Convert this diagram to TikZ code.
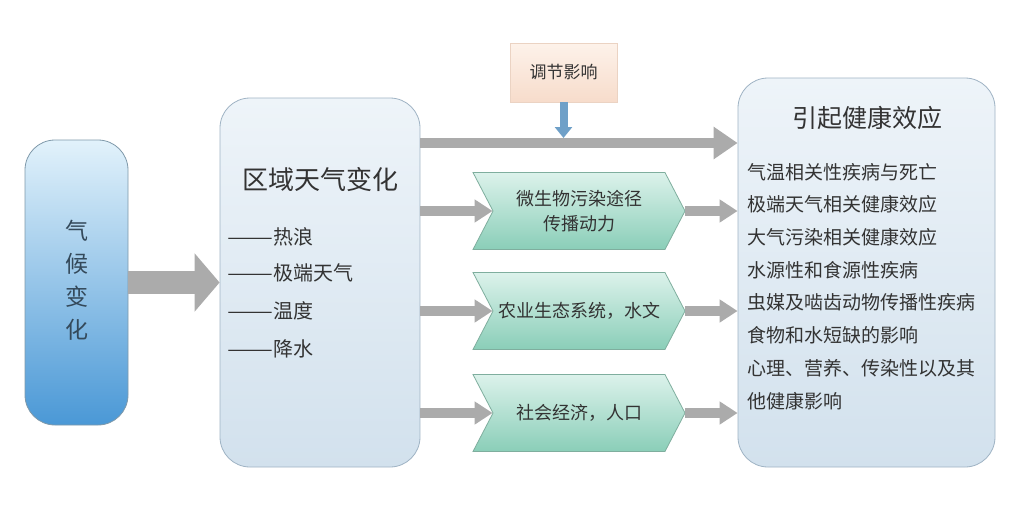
\documentclass[tikz,border=0pt]{standalone}
\usepackage{fontspec}
\setmainfont{Noto Sans CJK SC}
\usetikzlibrary{arrows.meta,shapes.symbols}
\definecolor{txt}{HTML}{333333}
\definecolor{climtop}{HTML}{E2F2FB}
\definecolor{climmid}{HTML}{8EC6EA}
\definecolor{climbot}{HTML}{4A98D6}
\definecolor{climline}{HTML}{7F99AA}
\definecolor{climtxt}{HTML}{34495A}
\definecolor{boxtop}{HTML}{EEF4F9}
\definecolor{boxbot}{HTML}{D2E1ED}
\definecolor{boxline}{HTML}{9FB3C4}
\definecolor{modtop}{HTML}{FDF2EA}
\definecolor{modbot}{HTML}{F7DCCB}
\definecolor{modline}{HTML}{EBD3C3}
\definecolor{chevtop}{HTML}{DCF2EB}
\definecolor{chevbot}{HTML}{8ACEB8}
\definecolor{chevline}{HTML}{7FAE9E}
\definecolor{arrowgray}{HTML}{ABABAB}
\definecolor{bluearrow}{HTML}{6FA0C8}
\newcommand{\longdash}{\scalebox{1.37}[1]{——}}
\tikzset{
  climbox/.style={draw=climline, line width=0.8pt, rounded corners=30pt,
    top color=climtop, middle color=climmid, bottom color=climbot,
    minimum width=103pt, minimum height=285pt, inner sep=0pt},
  bigbox/.style={draw=boxline, line width=0.8pt, rounded corners=30pt,
    top color=boxtop, bottom color=boxbot, inner sep=0pt},
  modbox/.style={draw=modline, line width=0.6pt, top color=modtop, bottom color=modbot,
    minimum width=107pt, minimum height=59pt, inner sep=0pt, text=txt,
    font=\fontsize{17}{20}\selectfont},
  chev/.style={shape=signal, signal to=east, signal from=west, signal pointer angle=125,
    draw=chevline, line width=0.8pt, top color=chevtop, bottom color=chevbot,
    minimum width=212pt, minimum height=77pt, inner sep=0pt, text=txt, align=center,
    font=\fontsize{18}{25}\selectfont},
  garrow/.style={draw=arrowgray, line width=10pt, -{Triangle[length=18pt,width=22pt]}},
  itemtxt/.style={anchor=west, inner sep=0pt, text=txt},
}
\begin{document}
\begin{tikzpicture}[x=1pt,y=-1pt]
\useasboundingbox (0,0) rectangle (1026,517);
\fill[white] (0,0) rectangle (1026,517);

% boxes
\node[climbox] (clim) at (76.5,282.5) {};
\node[bigbox, minimum width=200pt, minimum height=369pt] (reg) at (320,282.5) {};
\node[bigbox, minimum width=257pt, minimum height=389pt] (health) at (866.5,272.5) {};
\node[modbox] (mod) at (563.5,72.5) {调节影响};

\node[chev] (c1) at (579,211) {微生物污染途径\\传播动力};
\node[chev] (c2) at (579,311) {农业生态系统，水文};
\node[chev] (c3) at (579,413) {社会经济，人口};

% climate text
\node[text=climtxt, align=center, inner sep=0pt, font=\fontsize{23}{33}\selectfont] (climtxt) at (77,280) {气\\候\\变\\化};

% regional text
\node[text=txt, inner sep=0pt, font=\fontsize{26}{30}\selectfont] (regtitle) at (320,180) {区域天气变化};
\node[itemtxt, font=\fontsize{20}{24}\selectfont] (r1) at (227,237) {\longdash 热浪};
\node[itemtxt, font=\fontsize{20}{24}\selectfont] (r2) at (227,273) {\longdash 极端天气};
\node[itemtxt, font=\fontsize{20}{24}\selectfont] (r3) at (227,311) {\longdash 温度};
\node[itemtxt, font=\fontsize{20}{24}\selectfont] (r4) at (227,349) {\longdash 降水};

% health text
\node[text=txt, inner sep=0pt, font=\fontsize{25}{30}\selectfont] (htitle) at (867,118) {引起健康效应};
\foreach \t [count=\i] in {气温相关性疾病与死亡,极端天气相关健康效应,大气污染相关健康效应,水源性和食源性疾病,虫媒及啮齿动物传播性疾病,食物和水短缺的影响,心理、营养、传染性以及其,他健康影响}{
  \node[itemtxt, font=\fontsize{19}{22}\selectfont] (h\i) at (747,{172+32.7*(\i-1)}) {\t};
}

% arrows
\draw[draw=arrowgray, line width=23pt, -{Triangle[length=25pt,width=57pt]}] (clim.east) -- (reg.west);
\coordinate (la) at (reg.east |- 0,143);
\coordinate (lb) at (health.west |- 0,143);
\draw[draw=arrowgray, line width=10pt, -{Triangle[length=24pt,width=31pt]}] (la) -- (lb);
\draw[draw=bluearrow, line width=8pt, -{Triangle[length=11pt,width=17pt]}] (mod.south) -- (mod.south |- 0,138);
\foreach \c in {c1,c2,c3}{
  \draw[garrow] (reg.east |- \c.west) -- (\c.west);
  \draw[garrow] (\c.east) -- (health.west |- \c.east);
}
\end{tikzpicture}
\end{document}
